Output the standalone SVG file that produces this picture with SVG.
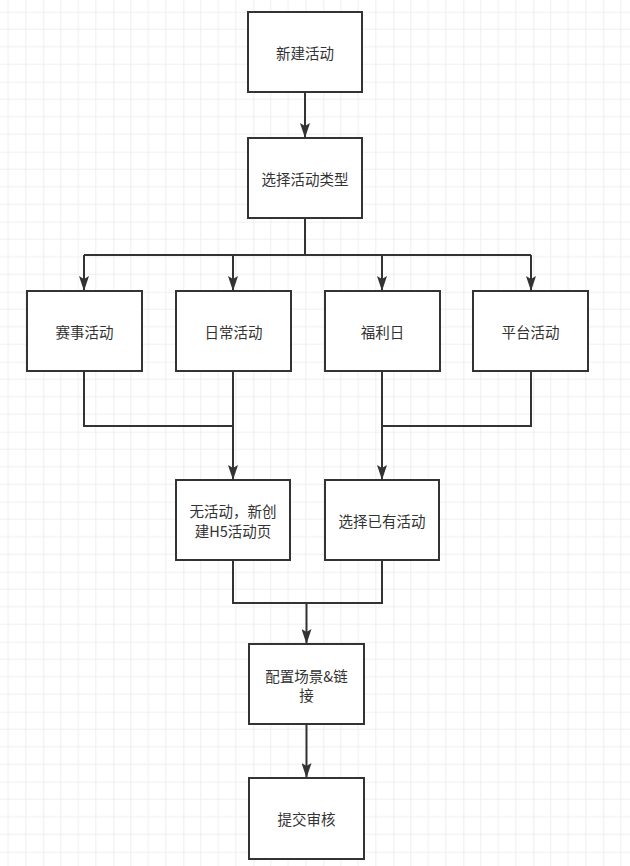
<svg xmlns="http://www.w3.org/2000/svg" width="630" height="866" viewBox="0 0 630 866">
<defs>
<pattern id="grid" patternUnits="userSpaceOnUse" x="43.3" y="11.7" width="70" height="70">
<path d="M17.5,0V70M35,0V70M52.5,0V70M0,17.5H70M0,35H70M0,52.5H70" fill="none" stroke="#efefef" stroke-width="1"/>
<path d="M0,0V70M0,0H70" fill="none" stroke="#e3e3e3" stroke-width="1.2"/>
</pattern>
<marker id="arr" viewBox="0 0 15 10" markerWidth="15" markerHeight="10" refX="15" refY="5" orient="auto" markerUnits="userSpaceOnUse">
<path d="M0,0L15,5L0,10L3,5Z" fill="#333"/>
</marker>
<style>
.box{fill:#fff;stroke:#333;stroke-width:2}
.t{font-family:"Noto Sans CJK SC","Noto Sans",sans-serif;font-size:14.5px;fill:#333;text-anchor:middle;dominant-baseline:central}
.c{fill:none;stroke:#333;stroke-width:2}
</style>
</defs>
<rect width="630" height="866" fill="#fff"/>
<rect width="630" height="866" fill="url(#grid)"/>
<g id="connectors">
<path class="c" d="M305,92V138" marker-end="url(#arr)"/>
<path class="c" d="M305,218V255M84,255H531"/>
<path class="c" d="M84,255V291" marker-end="url(#arr)"/>
<path class="c" d="M233,255V291" marker-end="url(#arr)"/>
<path class="c" d="M382,255V291" marker-end="url(#arr)"/>
<path class="c" d="M531,255V291" marker-end="url(#arr)"/>
<path class="c" d="M84,371V426H233"/>
<path class="c" d="M233,371V480" marker-end="url(#arr)"/>
<path class="c" d="M531,371V426H382"/>
<path class="c" d="M382,371V480" marker-end="url(#arr)"/>
<path class="c" d="M233,560V603H382V560"/>
<path class="c" d="M306.5,603V644" marker-end="url(#arr)"/>
<path class="c" d="M306.5,724V778" marker-end="url(#arr)"/>
</g>
<g id="n1"><rect class="box" x="248" y="12" width="114" height="80"/><text class="t" x="305" y="52">新建活动</text></g>
<g id="n2"><rect class="box" x="248" y="138" width="114" height="80"/><text class="t" x="305" y="178">选择活动类型</text></g>
<g id="n3"><rect class="box" x="27" y="291" width="115" height="80"/><text class="t" x="84.5" y="331">赛事活动</text></g>
<g id="n4"><rect class="box" x="176" y="291" width="115" height="80"/><text class="t" x="233.5" y="331">日常活动</text></g>
<g id="n5"><rect class="box" x="325" y="291" width="115" height="80"/><text class="t" x="382.5" y="331">福利日</text></g>
<g id="n6"><rect class="box" x="473" y="291" width="115" height="80"/><text class="t" x="530.5" y="331">平台活动</text></g>
<g id="n7"><rect class="box" x="176" y="480" width="114" height="80"/><text class="t" x="233" y="510">无活动，新创</text><text class="t" x="233" y="530">建H5活动页</text></g>
<g id="n8"><rect class="box" x="325" y="480" width="114" height="80"/><text class="t" x="382" y="520">选择已有活动</text></g>
<g id="n9"><rect class="box" x="249" y="644" width="115" height="80"/><text class="t" x="306.5" y="675">配置场景&amp;链</text><text class="t" x="306.5" y="694">接</text></g>
<g id="n10"><rect class="box" x="249" y="778" width="115" height="81"/><text class="t" x="306.5" y="818">提交审核</text></g>
</svg>
